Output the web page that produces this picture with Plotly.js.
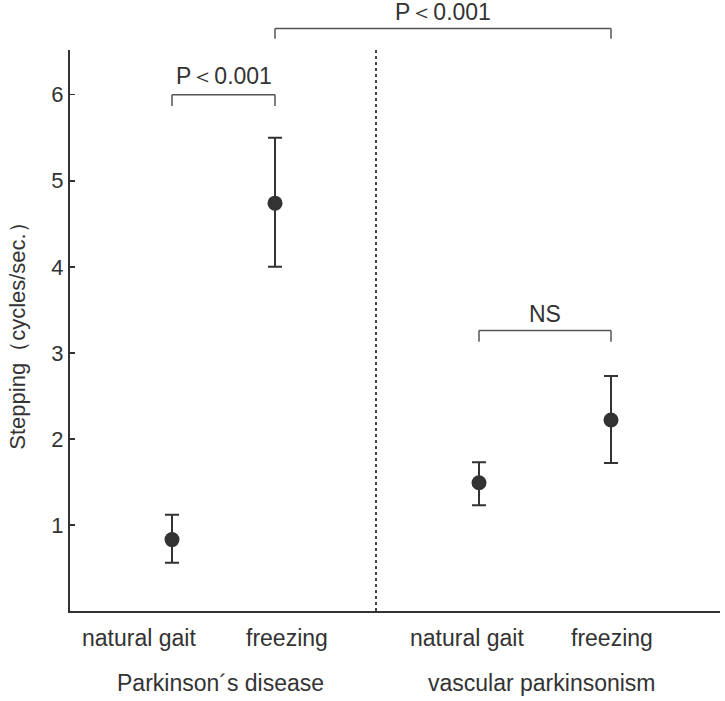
<!DOCTYPE html>
<html>
<head>
<meta charset="utf-8">
<script src="https://cdn.plot.ly/plotly-3.0.1.min.js"></script>
<style>html,body{margin:0;padding:0;background:#fff;}#chart{width:725px;height:701px;}</style>
</head>
<body>
<div id="chart"></div>
<script>
// ---- data ----
const groups = ["Parkinson´s disease", "vascular parkinsonism"];
const conditions = ["natural gait", "freezing", "natural gait", "freezing"];
const means = [0.83, 4.74, 1.49, 2.22];
const upper = [1.12, 5.5, 1.73, 2.73];
const lower = [0.56, 4.0, 1.23, 1.72];
const yTickVals = [1, 2, 3, 4, 5, 6];
const comparisons = [
  {a: 0, b: 1, label: "P＜0.001"},
  {a: 1, b: 3, label: "P＜0.001"},
  {a: 2, b: 3, label: "NS"}
];

// ---- layout helpers ----
const ink = "#333333";
const font = "Liberation Sans, Arial, Helvetica, sans-serif";
const slotX = [1.02, 2.05, 4.09, 5.41];        // point positions on x
const labelX = [0.69, 2.17, 3.97, 5.42];       // condition label positions
const groupX = [1.5, 4.72];
const dividerX = 3.06;
const yTop = 6.52;
const bracketLevels = [6.0, 6.77, 3.26];
const bracketDrop = [0.13, 0.12, 0.13];
const labelGap = [19, 16, 17];

const trace = {
  type: "scatter",
  mode: "markers",
  x: slotX,
  y: means,
  marker: {size: 15, color: "#333"},
  error_y: {
    type: "data",
    symmetric: false,
    array: upper.map((u, i) => u - means[i]),
    arrayminus: means.map((m, i) => m - lower[i]),
    color: "#333",
    thickness: 2,
    width: 7
  },
  cliponaxis: false,
  hoverinfo: "skip"
};

const shapes = [{
  type: "line", xref: "x", yref: "paper",
  x0: dividerX, x1: dividerX, y0: 0, y1: 1,
  line: {color: "#444", width: 2, dash: "dot"}
}];
const annotations = [];

comparisons.forEach((c, i) => {
  const lv = bracketLevels[i] / yTop;
  const dr = (bracketLevels[i] - bracketDrop[i]) / yTop;
  const xa = slotX[c.a], xb = slotX[c.b];
  shapes.push({type: "line", xref: "x", yref: "paper", x0: xa, x1: xb, y0: lv, y1: lv, line: {color: "#555", width: 1.5}});
  shapes.push({type: "line", xref: "x", yref: "paper", x0: xa, x1: xa, y0: lv, y1: dr, line: {color: "#555", width: 1.5}});
  shapes.push({type: "line", xref: "x", yref: "paper", x0: xb, x1: xb, y0: lv, y1: dr, line: {color: "#555", width: 1.5}});
  annotations.push({
    xref: "x", yref: "paper", x: (xa + xb) / 2, y: lv,
    yanchor: "middle", xanchor: "center", yshift: labelGap[i],
    text: c.label, showarrow: false,
    font: {family: font, size: 23, color: ink}
  });
});

conditions.forEach((c, i) => {
  annotations.push({
    xref: "x", yref: "paper", x: labelX[i], y: 0, yshift: -27,
    xanchor: "center", yanchor: "middle", text: c, showarrow: false,
    font: {family: font, size: 23, color: ink}
  });
});
groups.forEach((g, i) => {
  annotations.push({
    xref: "x", yref: "paper", x: groupX[i], y: 0, yshift: -72,
    xanchor: "center", yanchor: "middle", text: g, showarrow: false,
    font: {family: font, size: 23, color: ink}
  });
});

const layout = {
  width: 725, height: 701,
  margin: {l: 70, r: 5, t: 50, b: 90},
  paper_bgcolor: "#fff", plot_bgcolor: "#fff",
  showlegend: false,
  xaxis: {
    range: [0, 6.5], showgrid: false, zeroline: false,
    showticklabels: false, ticks: "",
    showline: true, linecolor: ink, linewidth: 2, fixedrange: true
  },
  yaxis: {
    range: [0, yTop], showgrid: false, zeroline: false,
    tickvals: yTickVals, ticktext: yTickVals.map(String),
    ticks: "inside", ticklen: 5, tickwidth: 1.5, tickcolor: ink,
    tickfont: {family: font, size: 22, color: ink},
    showline: true, linecolor: ink, linewidth: 2,
    title: {text: "Stepping（cycles/sec.）", font: {family: font, size: 22, color: ink}, standoff: 20},
    fixedrange: true
  },
  shapes: shapes,
  annotations: annotations
};

Plotly.newPlot("chart", [trace], layout, {staticPlot: true});
</script>
</body>
</html>
